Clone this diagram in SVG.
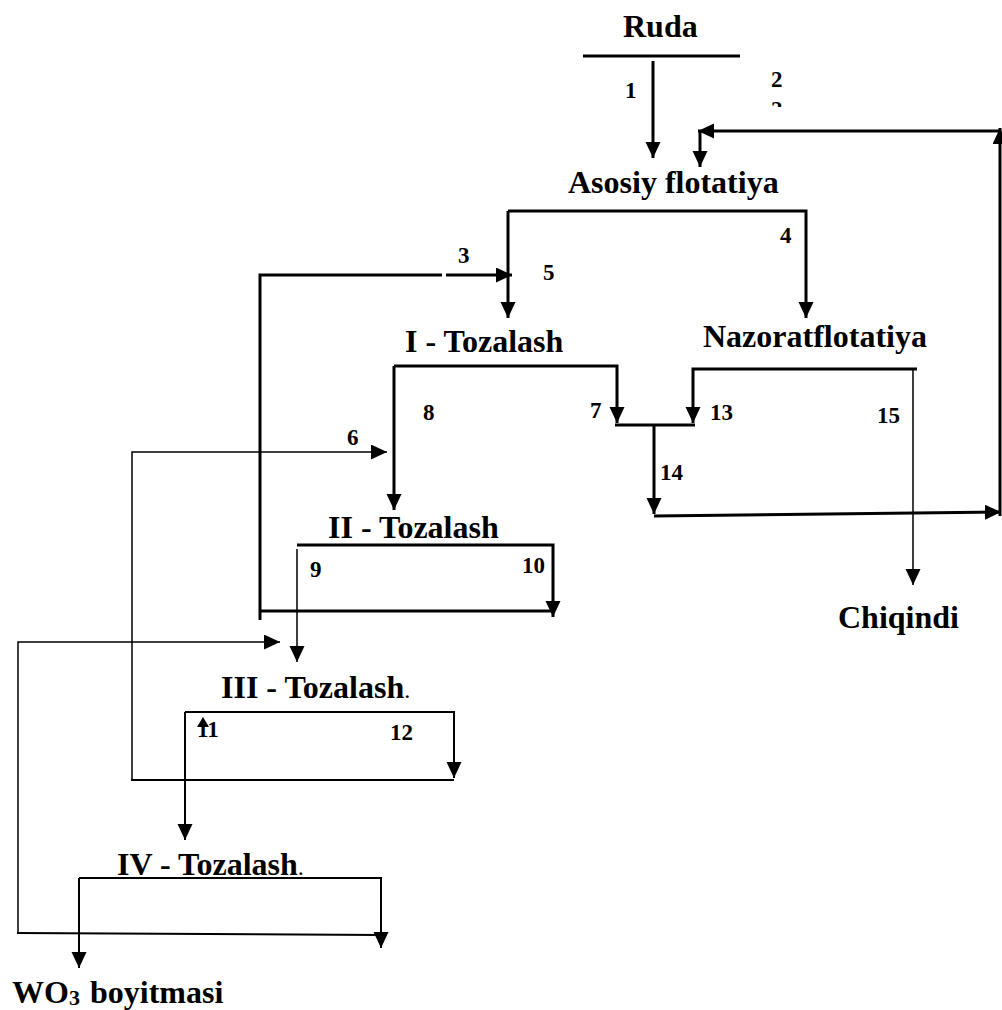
<svg xmlns="http://www.w3.org/2000/svg" width="1002" height="1010" viewBox="0 0 1002 1010">
<style>
.t{font-family:"Liberation Serif","Times New Roman",serif;font-weight:bold;font-size:32px;fill:#000}
.n{font-family:"Liberation Serif","Times New Roman",serif;font-weight:bold;font-size:23px;fill:#000}
.k{fill:none;stroke:#000;stroke-width:3}
.m{fill:none;stroke:#000;stroke-width:2}
.s{fill:none;stroke:#000;stroke-width:1.5}
</style>
<defs>
<marker id="ah" markerUnits="userSpaceOnUse" markerWidth="17" markerHeight="16" refX="16" refY="7.5" orient="auto">
<path d="M0,0 L16,7.5 L0,15 z" fill="#000"/>
</marker>
<clipPath id="c2"><rect x="760" y="95" width="40" height="12"/></clipPath>
</defs>
<rect width="1002" height="1010" fill="#fff"/>

<g id="connectors">
<path class="k" d="M583,56 H740"/>
<path class="k" d="M653,61 V158" marker-end="url(#ah)"/>
<path class="k" d="M1000,516 V128" marker-end="url(#ah)"/>
<path class="k" d="M1000,131 H698" marker-end="url(#ah)"/>
<path class="k" d="M700,131 V167" marker-end="url(#ah)"/>
<path class="k" d="M508,211 H806 V318" marker-end="url(#ah)"/>
<path class="k" d="M508,211 V318" marker-end="url(#ah)"/>
<path class="k" d="M260,620 V275 H442"/>
<path class="k" d="M446,275 H512" marker-end="url(#ah)"/>
<path class="k" d="M394,366 H617 V423" marker-end="url(#ah)"/>
<path class="k" d="M394,366 V510" marker-end="url(#ah)"/>
<path class="k" d="M917,369 H693 V423" marker-end="url(#ah)"/>
<path class="k" d="M615,425 H695"/>
<path class="k" d="M654,425 V514" marker-end="url(#ah)"/>
<path class="k" d="M654,516 L1001,512" marker-end="url(#ah)"/>
<path class="s" d="M913,369 V585" marker-end="url(#ah)"/>
<path class="s" d="M132,780 V452 H387" marker-end="url(#ah)"/>
<path class="k" d="M297,545 H553 V617" marker-end="url(#ah)"/>
<path class="s" d="M297,549 V662" marker-end="url(#ah)"/>
<path class="k" d="M260,611 H553"/>
<path class="s" d="M18,933 V642 H280" marker-end="url(#ah)"/>
<path class="m" d="M185,712 H454 V778" marker-end="url(#ah)"/>
<path class="m" d="M185,712 V840" marker-end="url(#ah)"/>
<path class="m" d="M131,780 H454"/>
<path class="m" d="M79,878 H381 V948" marker-end="url(#ah)"/>
<path class="m" d="M79,878 V968" marker-end="url(#ah)"/>
<path class="m" d="M17,933 L381,935"/>
</g>

<g id="ruda"><text class="t" x="623" y="37">Ruda</text></g>
<g id="asosiy"><text class="t" x="568" y="193">Asosiy flotatiya</text></g>
<g id="tozalash1"><text class="t" x="405" y="352">I - Tozalash</text></g>
<g id="nazorat"><text class="t" x="703" y="347">Nazoratflotatiya</text></g>
<g id="tozalash2"><text class="t" x="328" y="538">II - Tozalash</text></g>
<g id="tozalash3"><text class="t" x="221" y="698">III - Tozalash<tspan font-weight="normal" font-size="24">.</tspan></text></g>
<g id="tozalash4"><text class="t" x="117" y="875">IV - Tozalash<tspan font-weight="normal" font-size="24">.</tspan></text></g>
<g id="chiqindi"><text class="t" x="838" y="628">Chiqindi</text></g>
<g id="wo3"><text class="t" x="12" y="1003">WO<tspan font-size="22" dy="2">3</tspan></text><text class="t" x="90" y="1003">boyitmasi</text></g>

<g id="labels">
<text class="n" x="625" y="98">1</text>
<text class="n" x="771" y="87">2</text>
<text class="n" x="771" y="117" clip-path="url(#c2)">2</text>
<text class="n" x="458" y="263">3</text>
<text class="n" x="780" y="243">4</text>
<text class="n" x="543" y="280">5</text>
<text class="n" x="347" y="445">6</text>
<text class="n" x="590" y="418">7</text>
<text class="n" x="423" y="420">8</text>
<text class="n" x="310" y="577">9</text>
<text class="n" x="522" y="573">10</text>
<text class="n" x="197" y="737">11</text>
<path d="M203,717 L197,727 L209,727 z" fill="#000"/>
<text class="n" x="390" y="740">12</text>
<text class="n" x="710" y="420">13</text>
<text class="n" x="660" y="480">14</text>
<text class="n" x="877" y="423">15</text>
</g>
</svg>
